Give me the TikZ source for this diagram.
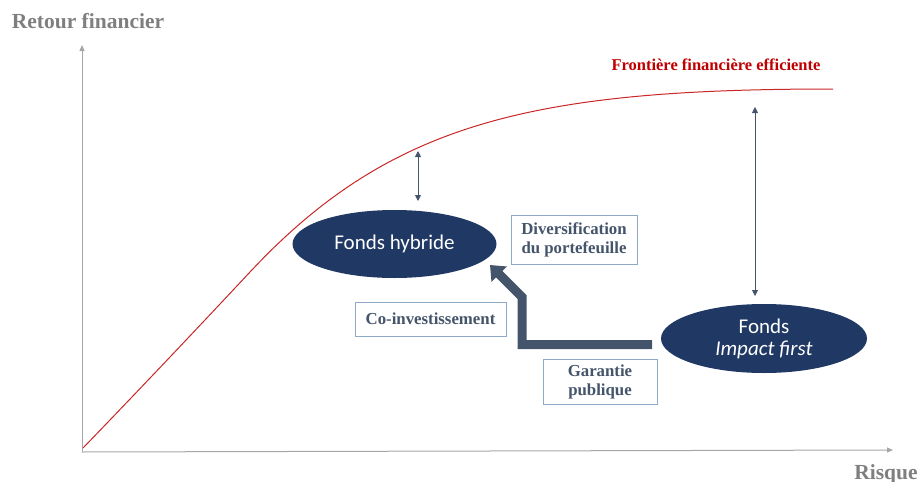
\documentclass[tikz,border=0pt]{standalone}
\usepackage{fontspec}
\setmainfont{Liberation Serif}
\newfontfamily\calibri{Carlito}
\usetikzlibrary{arrows.meta,shapes.geometric}
\definecolor{navy}{HTML}{203864}
\definecolor{slate}{HTML}{44546A}
\definecolor{axisgray}{HTML}{A6A6A6}
\definecolor{labelgray}{HTML}{7F7F7F}
\definecolor{frontred}{HTML}{C00000}
\definecolor{boxline}{HTML}{8FAAC8}
\tikzset{
  axisline/.style={draw=axisgray, line width=1pt, -{Triangle[width=5pt,length=6pt]}},
  axislabel/.style={text=labelgray, font=\bfseries\fontsize{21.5}{25}\selectfont, inner sep=0pt},
  fund/.style={ellipse, fill=navy, text=white, minimum width=204pt, minimum height=68pt,
    inner sep=0pt, align=center, font=\calibri\fontsize{21}{24}\selectfont},
  lever/.style={draw=boxline, line width=0.8pt, fill=white, text=slate, align=center,
    font=\bfseries\fontsize{16.8}{19}\selectfont, inner sep=0pt},
  gap/.style={draw=slate, line width=0.9pt, {Triangle[width=6pt,length=6pt]}-{Triangle[width=6pt,length=6pt]}},
  movearrow/.style={draw=slate, line width=9pt, line join=miter, -{Triangle[width=21pt,length=13pt]}}
}
\begin{document}
\begin{tikzpicture}[x=1pt,y=-1pt]
\useasboundingbox (0,0) rectangle (919,482);

% axes
\coordinate (O) at (82,452);
\coordinate (ytop) at (82,45);
\coordinate (xend) at (893,450);
\draw[axisline] (O) -- (ytop);
\draw[axisline] (O) -- (xend);
\node[axislabel] (ylab) at (88,21) {Retour financier};
\node[axislabel] (xlab) at (886,474) {Risque};

% efficient frontier
\coordinate (c0) at (83,448);
\coordinate (c1) at (250,272);
\coordinate (c2) at (833,89);
\draw[frontred!85, line width=1pt]
  (c0) .. controls (140,389) and (200,325.5) .. (c1)
       .. controls (390,122.2) and (533,89) .. (c2);
\node[text=frontred, font=\bfseries\fontsize{16.5}{19}\selectfont, inner sep=0pt]
  (frontlab) at (716,65) {Frontière financière efficiente};

% funds
\node[fund] (hybrid) at (394.5,244) {Fonds hybride};
\node[fund, minimum width=206pt, minimum height=69pt] (impact) at (764,338.5)
  {Fonds\\[-2pt]\textit{Impact first}};

% distance to the frontier
\coordinate (f1) at (418,151);
\coordinate (h1) at (418,201);
\draw[gap] (f1) -- (h1);
\coordinate (f2) at (755,107);
\coordinate (h2) at (755,296);
\draw[gap] (f2) -- (h2);

% path from impact-first fund to hybrid fund
\coordinate (s0) at (652,344.5);
\coordinate (s1) at (522,344.5);
\coordinate (s2) at (522,297);
\coordinate (s3) at (490,265);
\draw[movearrow] (s0) -- (s1) -- (s2) -- (s3);

% levers
\node[lever, minimum width=126pt, minimum height=49pt] (divers) at (574,239.5)
  {Diversification\\du portefeuille};
\node[lever, minimum width=151pt, minimum height=34pt] (coinv) at (430.5,319)
  {Co-investissement};
\node[lever, minimum width=114pt, minimum height=45pt] (garant) at (600,381.5)
  {Garantie\\publique};
\end{tikzpicture}
\end{document}
